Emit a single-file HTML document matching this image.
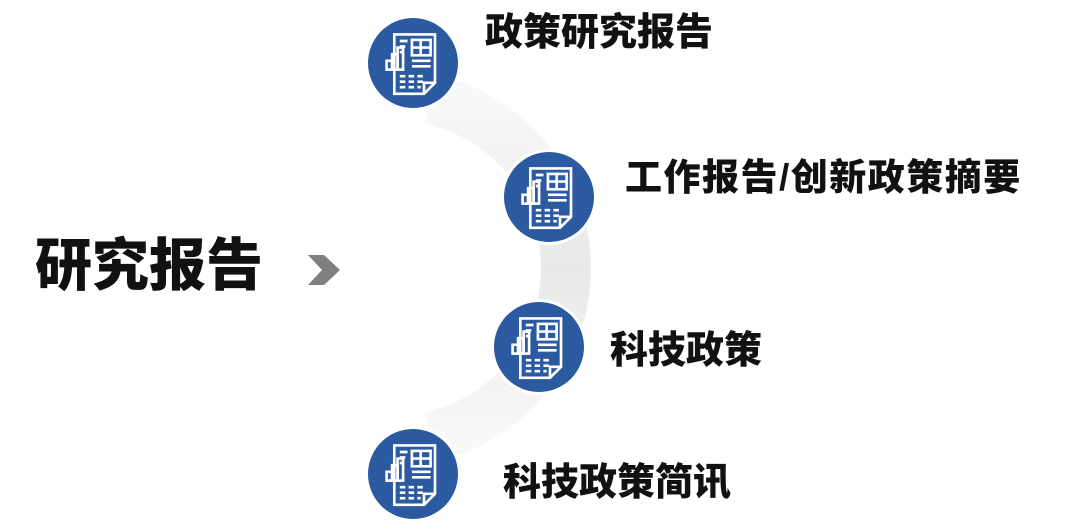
<!DOCTYPE html>
<html><head><meta charset="utf-8"><style>
body{margin:0;width:1080px;height:531px;background:#fff;overflow:hidden;position:relative;font-family:"Liberation Sans","Noto Sans CJK SC",sans-serif;font-weight:900}
.t{position:absolute;color:#111;white-space:nowrap;line-height:1}
svg{position:absolute;left:0;top:0}
</style></head><body>
<svg width="1080" height="531" viewBox="0 0 1080 531">
<defs>
<linearGradient id="g" x1="0" y1="0" x2="0" y2="1">
<stop offset="0" stop-color="#f8f8f8"/><stop offset="0.5" stop-color="#e8e8e8"/><stop offset="1" stop-color="#f8f8f8"/>
</linearGradient>
<g id="ic">
<circle r="48" fill="#fff"/>
<circle r="45" fill="#2b5aa1"/>
<g fill="none" stroke="#fff" stroke-width="2.4" transform="scale(1.1)">
<path d="M-17,-26 H20 V18 L10,28 H-17 Z M10,28 V18 H20"/>
<path d="M-12,-20 h7 M-12,-15 h5 M-12,-10 h3"/>
<rect x="-1" y="-21" width="17" height="14"/><path d="M-1,-14 H16 M7,-21 V-7"/>
<path d="M-1,-2 H16 M-1,3 H16"/>
<rect x="-24" y="-2" width="5" height="8"/><rect x="-19" y="-8" width="5" height="14"/><rect x="-14" y="-14" width="5" height="20"/>
<path d="M-12,12 h5 M-4,12 h5 M4,12 h5 M-12,17 h5 M-4,17 h5 M4,17 h5 M-12,22 h5 M-4,22 h5 M4,22 h3"/>
</g>
</g>
</defs>
<path d="M430,99 A173,173 0 0 1 430,437" fill="none" stroke="url(#g)" stroke-width="50"/>
<use href="#ic" x="413" y="63"/>
<use href="#ic" x="549" y="197"/>
<use href="#ic" x="539" y="347"/>
<use href="#ic" x="413" y="474"/>
<path d="M308,255 L324,255 L340,270 L324,285 L308,285 L322,270 Z" fill="#7f7f7f"/>
</svg>
<div class="t" style="left:35px;top:238px;font-size:57px">研究报告</div>
<div class="t" style="left:485px;top:14px;font-size:38px">政策研究报告</div>
<div class="t" style="left:625px;top:159px;font-size:37px;letter-spacing:1.5px">工作报告/创新政策摘要</div>
<div class="t" style="left:610px;top:332px;font-size:38px">科技政策</div>
<div class="t" style="left:503px;top:464px;font-size:38px">科技政策简讯</div>
</body></html>
